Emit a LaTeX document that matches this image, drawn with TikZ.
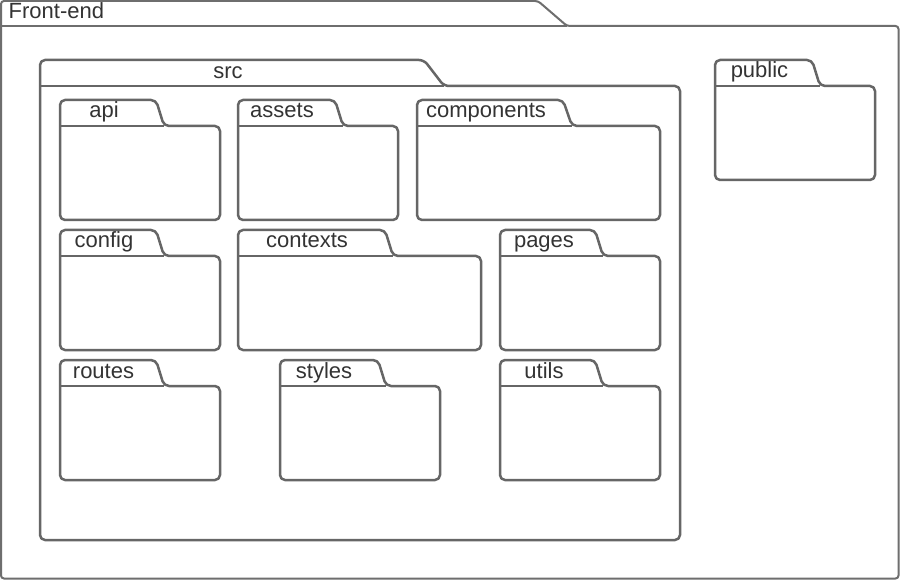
\documentclass[tikz,border=0pt]{standalone}
\usepackage{fontspec}
\setmainfont{Liberation Sans}
\begin{document}
\begin{tikzpicture}[x=1pt,y=-1pt,
  fold/.style={draw=foldgray, line width=2.5pt, rounded corners=5pt, line join=round},
  outerfold/.style={draw=outergray, line width=2pt, rounded corners=3pt, line join=round},
  lbl/.style={anchor=base, inner sep=0pt, text=labelgray, font=\fontsize{22}{25}\selectfont}]
\definecolor{foldgray}{HTML}{666666}
\definecolor{outergray}{HTML}{6E6E6E}
\definecolor{labelgray}{HTML}{333333}
\useasboundingbox (0,0) rectangle (900,580);
\fill[white] (0,0) rectangle (900,580);
% #1 style, #2 x0, #3 ytop, #4 x1, #5 ybot, #6 xt1, #7 xt2
\newcommand\pkgfold[7]{%
  \draw[#1] (#2,#3+40) -- (#2,#3) -- (#6,#3) -- (#7,#3+26) -- (#4,#3+26) -- (#4,#5) -- (#2,#5) -- cycle;
  \draw[#1,rounded corners=0pt] (#2,#3+26) -- (#7,#3+26);
}
% Front-end
\draw[outerfold] (1,30) -- (1,1) -- (538,1) -- (567,26) -- (898.5,26) -- (898.5,578.5) -- (1,578.5) -- cycle;
\draw[outerfold,rounded corners=0pt] (1,26) -- (567,26);
\node[lbl, anchor=base west] (frontend) at (8.5,19) {Front-end};
% src
\pkgfold{fold}{40}{60}{680}{540}{424}{444}
\node[lbl] (src) at (228,78.5) {src};
% public
\pkgfold{fold}{715}{60}{875}{180}{812}{820}
\node[lbl] (public) at (759.5,78) {public};
% row 1
\pkgfold{fold}{60}{100}{220}{220}{156}{164}
\node[lbl] (api) at (104,118) {api};
\pkgfold{fold}{238}{100}{398}{220}{335}{343}
\node[lbl] (assets) at (282,118) {assets};
\pkgfold{fold}{417}{100}{660}{220}{563}{572}
\node[lbl] (components) at (486,118) {components};
% row 2
\pkgfold{fold}{60}{230}{220}{350}{156}{164}
\node[lbl] (config) at (104,248) {config};
\pkgfold{fold}{238}{230}{481}{350}{385}{393}
\node[lbl] (contexts) at (307,248) {contexts};
\pkgfold{fold}{500}{230}{660}{350}{595}{603}
\node[lbl] (pages) at (544,248) {pages};
% row 3
\pkgfold{fold}{60}{360}{220}{480}{156}{164}
\node[lbl] (routes) at (103.5,378) {routes};
\pkgfold{fold}{280}{360}{440}{480}{378}{386}
\node[lbl] (styles) at (324,378) {styles};
\pkgfold{fold}{500}{360}{660}{480}{595}{603}
\node[lbl] (utils) at (544,378) {utils};
\end{tikzpicture}
\end{document}
